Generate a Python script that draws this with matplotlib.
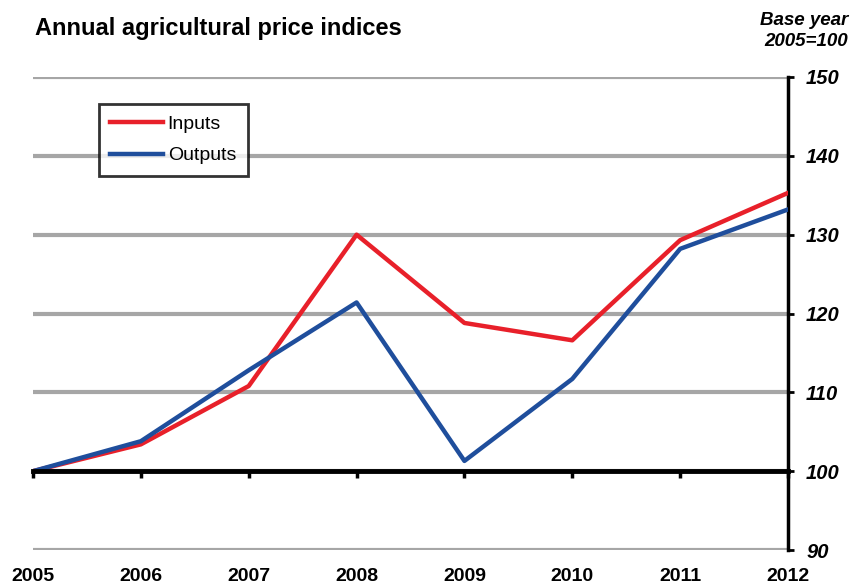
import matplotlib.pyplot as plt
import matplotlib.transforms as mtransforms

# data
years = [2005, 2006, 2007, 2008, 2009, 2010, 2011, 2012]
inputs = [100.0, 103.4, 110.8, 130.0, 118.8, 116.6, 129.3, 135.3]
outputs = [100.0, 103.8, 112.8, 121.4, 101.3, 111.7, 128.2, 133.2]
y_ticks = [90, 100, 110, 120, 130, 140, 150]

plt.rcParams['font.family'] = ['Liberation Sans', 'DejaVu Sans']

fig = plt.figure(figsize=(8.51, 5.83), dpi=100)
ax = fig.add_axes([33 / 851, 1 - 550 / 583, (788 - 33) / 851, (550 - 77) / 583])

# gridlines
for v in y_ticks:
    ax.axhline(v, color='#a6a6a6', lw=3, zorder=1)

ax.plot(years, inputs, color='#e8202a', lw=3.2, label='Inputs', zorder=3)
ax.plot(years, outputs, color='#1f4e9c', lw=3.2, label='Outputs', zorder=3)

ax.set_xlim(years[0], years[-1])
ax.set_ylim(90, 150)

for s in ['left', 'top']:
    ax.spines[s].set_visible(False)
ax.spines['bottom'].set_position(('data', 100))
ax.spines['bottom'].set_linewidth(3.5)
ax.spines['bottom'].set_zorder(4)
ax.spines['right'].set_linewidth(2.5)

ax.set_xticks(years)
ax.tick_params(axis='x', direction='out', length=5, width=2.5, labelbottom=False)
ax.yaxis.tick_right()
ax.set_yticks(y_ticks)
ax.tick_params(axis='y', direction='out', length=4, width=2, pad=9)
for lbl in ax.get_yticklabels():
    lbl.set_fontweight('bold')
    lbl.set_fontstyle('italic')
    lbl.set_fontsize(14.5)

# year labels under the plot
trans = mtransforms.blended_transform_factory(ax.transData, ax.transAxes)
for yr in years:
    ax.text(yr, -0.055, str(yr), transform=trans, ha='center', va='center',
            fontsize=14, fontweight='bold')

leg = ax.legend(loc='upper left', bbox_to_anchor=(0.087, 0.943), fontsize=14,
                frameon=True, fancybox=False, handlelength=2.7, handletextpad=0.25,
                borderpad=0.6, labelspacing=0.7, borderaxespad=0)
leg.get_frame().set_edgecolor('black')
leg.get_frame().set_linewidth(2)

fig.text(35 / 851, 1 - 29 / 583, 'Annual agricultural price indices', fontsize=17,
         fontweight='bold', va='center', ha='left')
fig.text(848 / 851, 1 - 31 / 583, 'Base year\n2005=100', fontsize=13.5,
         fontweight='bold', fontstyle='italic', va='center', ha='right',
         linespacing=1.25)

fig.savefig('out.png', dpi=100)
